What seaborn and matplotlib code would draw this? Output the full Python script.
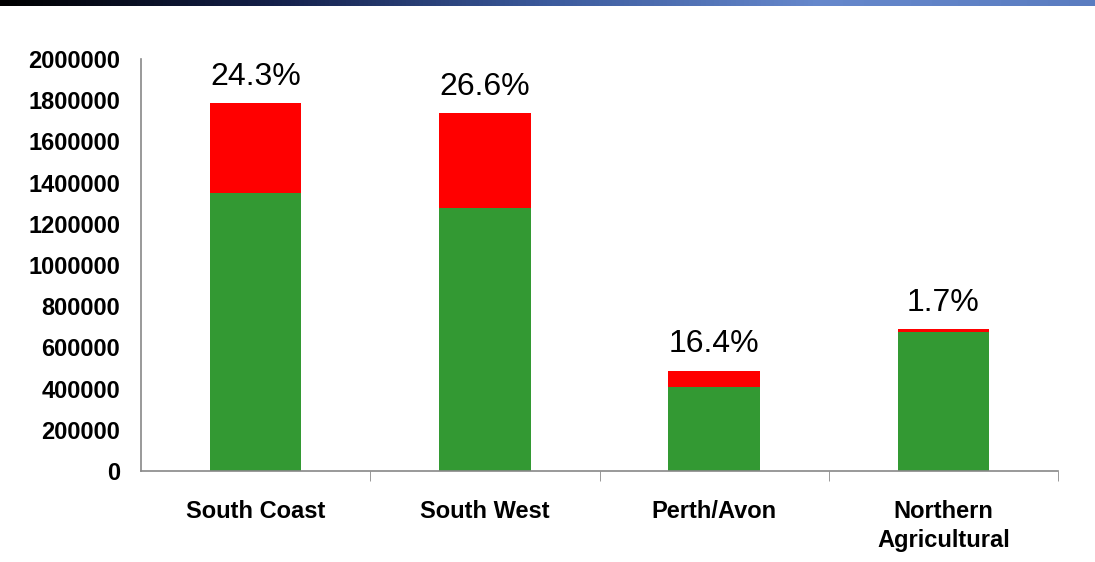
import matplotlib
matplotlib.use("Agg")
import matplotlib.pyplot as plt
from matplotlib.colors import LinearSegmentedColormap
import numpy as np
import pandas as pd
import seaborn as sns

# values
regions = ["South Coast", "South West", "Perth/Avon", "Northern\nAgricultural"]
green_part = [1350000, 1275000, 407000, 677000]
total = [1785000, 1737000, 487000, 689000]
pct_labels = ["24.3%", "26.6%", "16.4%", "1.7%"]
yticks = [0, 200000, 400000, 600000, 800000, 1000000, 1200000, 1400000,
          1600000, 1800000, 2000000]

sns.set_style("white")
plt.rcParams["font.family"] = ["Liberation Sans", "DejaVu Sans"]
plt.rcParams["text.color"] = "black"
plt.rcParams["xtick.color"] = "black"
plt.rcParams["ytick.color"] = "black"

df = pd.DataFrame({"region": regions, "green": green_part, "total": total})

fig = plt.figure(figsize=(10.95, 5.62), dpi=100)

# dark blue band along the top edge
band = fig.add_axes([0, 1 - 6 / 562, 1, 6 / 562])
cmap = LinearSegmentedColormap.from_list(
    "band", ["#000000", "#14204a", "#3b5a9c", "#6688cc", "#5a7cc0"])
band.imshow(np.linspace(0, 1, 256)[None, :], aspect="auto", cmap=cmap)
band.axis("off")

ax = fig.add_axes([141 / 1095, 91 / 562, 917 / 1095, 412 / 562])
sns.barplot(data=df, x="region", y="total", color="#ff0000", width=0.4,
            saturation=1, linewidth=0, ax=ax)
sns.barplot(data=df, x="region", y="green", color="#339933", width=0.4,
            saturation=1, linewidth=0, ax=ax)

for i, (t, lab) in enumerate(zip(total, pct_labels)):
    ax.text(i, t + 55000, lab, ha="center", va="bottom", fontsize=23)

ax.set_xlim(-0.5, 3.5)
ax.set_ylim(0, 2000000)
ax.set_yticks(yticks)
ax.set_yticklabels([str(v) for v in yticks], fontsize=17, fontweight="bold")
ax.set_xticks(range(len(regions)))
ax.set_xticklabels(regions, fontsize=17, fontweight="bold", linespacing=1.3)
ax.tick_params(axis="x", length=0, pad=21)
ax.tick_params(axis="y", length=7, color="#888888", width=1, pad=8)
# boundary ticks on the category axis
ax.set_xticks([0.5, 1.5, 2.5, 3.5], minor=True)
ax.tick_params(axis="x", which="minor", length=7, color="#888888",
               direction="out", bottom=True)
ax.set_xlabel("")
ax.set_ylabel("")
sns.despine(ax=ax)
for s in ["left", "bottom"]:
    ax.spines[s].set_color("#888888")
    ax.spines[s].set_linewidth(1.2)

fig.savefig("out.png", dpi=100)
